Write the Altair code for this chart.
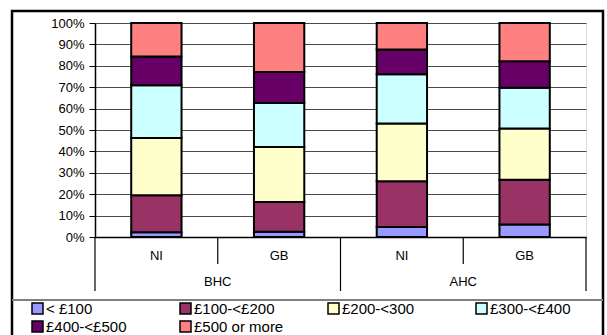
import altair as alt
import pandas as pd

# Weekly income bands, share of individuals (%), by region and housing-cost basis
bands = ["< £100", "£100-<£200", "£200-<300", "£300-<£400", "£400-<£500", "£500 or more"]
band_colors = ["#9999FF", "#993366", "#FFFFCC", "#CCFFFF", "#660066", "#FF8080"]

groups = ["BHC", "BHC", "AHC", "AHC"]
regions = ["NI", "GB", "NI", "GB"]

ni_bhc = [2.2, 17.3, 26.8, 24.6, 13.5, 15.6]
gb_bhc = [2.5, 13.9, 25.7, 20.5, 14.5, 22.9]
ni_ahc = [4.7, 21.3, 27.0, 23.0, 11.6, 12.4]
gb_ahc = [5.8, 21.0, 23.9, 19.1, 12.3, 17.9]
series = [ni_bhc, gb_bhc, ni_ahc, gb_ahc]

keys = [f"{r} {g}" for r, g in zip(regions, groups)]

rows = []
for key, grp, reg, vals in zip(keys, groups, regions, series):
    for i, (b, v) in enumerate(zip(bands, vals)):
        rows.append({"key": key, "group": grp, "region": reg, "band": b, "idx": i, "share": v})
df = pd.DataFrame(rows)
cats = pd.DataFrame({"key": keys, "group": groups, "region": regions})

W, H = 491, 214
FONT = "Liberation Sans"

xscale = alt.Scale(domain=keys, paddingInner=0, paddingOuter=0)

bars = alt.Chart(df).mark_bar(
    width=alt.RelativeBandSize(0.41), stroke="black", strokeWidth=2
).encode(
    x=alt.X("key:N", scale=xscale, sort=keys, title=None,
            axis=alt.Axis(labelExpr="split(datum.value, ' ')[0]", ticks=False,
                          labelAngle=0, labelPadding=12, labelFontSize=13,
                          domainColor="black", domainWidth=1.5, grid=False)),
    y=alt.Y("share:Q", stack="normalize", title=None,
            scale=alt.Scale(domain=[0, 1]),
            axis=alt.Axis(values=[i / 10 for i in range(11)], format=".0%",
                          tickSize=6, tickColor="black", labelPadding=5,
                          labelFontSize=13, domainColor="black", domainWidth=1.5,
                          gridColor="#4a4a4a", gridWidth=1.2)),
    color=alt.Color("band:N", scale=alt.Scale(domain=bands, range=band_colors),
                    legend=alt.Legend(orient="none", legendX=-65, legendY=278,
                                      direction="horizontal", columns=4, title=None,
                                      symbolType="square", symbolSize=121,
                                      symbolStrokeColor="black", symbolStrokeWidth=1.5,
                                      labelFontSize=15, labelOffset=1, rowPadding=1,
                                      columnPadding=41, gridAlign="all", padding=0,
                                      labelLimit=200)),
    order=alt.Order("idx:Q", sort="ascending"),
)

# separators on the category axis: short between regions, long around groups
short_ticks = alt.Chart(cats[cats.region == "GB"]).mark_rule(color="black", strokeWidth=1.2).encode(
    x=alt.X("key:N", scale=xscale, sort=keys, bandPosition=0),
    y=alt.value(H), y2=alt.value(H + 27))
long_ticks = alt.Chart(cats[cats.region == "NI"]).mark_rule(color="black", strokeWidth=1.2).encode(
    x=alt.X("key:N", scale=xscale, sort=keys, bandPosition=0),
    y=alt.value(H), y2=alt.value(H + 54))
end_tick = alt.Chart(cats.tail(1)).mark_rule(color="black", strokeWidth=1.2).encode(
    x=alt.X("key:N", scale=xscale, sort=keys, bandPosition=1),
    y=alt.value(H), y2=alt.value(H + 54))

group_labels = alt.Chart(cats[cats.region == "NI"]).mark_text(
    fontSize=13, font=FONT, baseline="middle", color="black"
).encode(
    x=alt.X("key:N", scale=xscale, sort=keys, bandPosition=1),
    y=alt.value(H + 45), text="group:N")

# outer frame and the line above the legend
frame = alt.Chart(cats.head(1)).mark_rect(fill=None, stroke="black", strokeWidth=2.5).encode(
    x=alt.value(-83), x2=alt.value(508), y=alt.value(-12), y2=alt.value(345))
legend_line = alt.Chart(cats.head(1)).mark_rule(color="#808080", strokeWidth=2).encode(
    x=alt.value(-83), x2=alt.value(508), y=alt.value(H + 63))

chart = alt.layer(
    bars, short_ticks, long_ticks, end_tick, group_labels, frame, legend_line
).properties(
    width=W, height=H,
    autosize=alt.AutoSizeParams(type="none"),
    padding={"left": 95, "top": 23, "right": 21, "bottom": 98},
    background="white",
).configure_view(
    fill="#C0C0C0", stroke="#808080", strokeWidth=1.5
).configure(
    font=FONT
).configure_axis(
    labelColor="black", labelFont=FONT
).configure_legend(
    labelColor="black", labelFont=FONT
)

chart.save("out.html", embed_options={"renderer": "svg", "actions": False})
